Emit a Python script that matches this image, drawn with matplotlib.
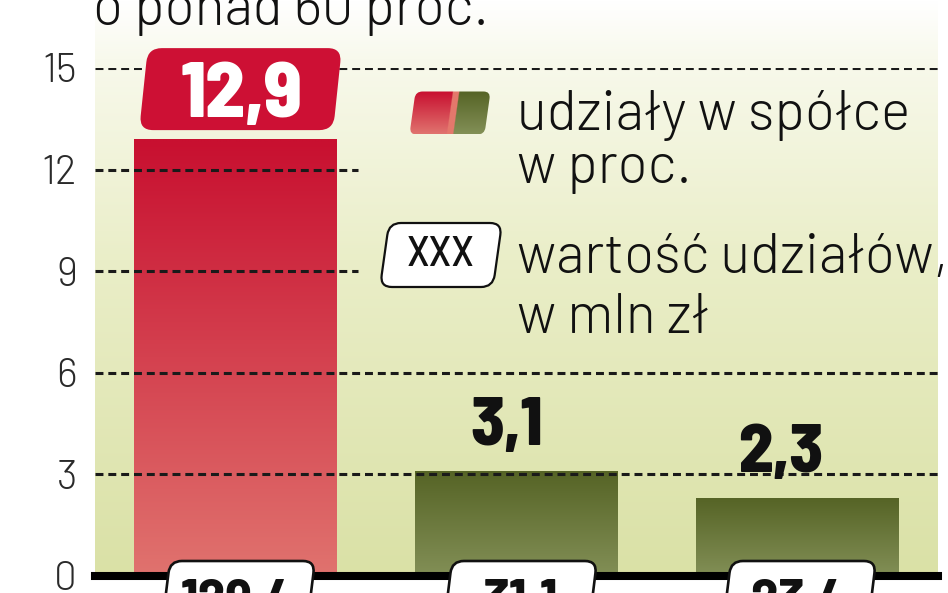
import matplotlib
matplotlib.use("Agg")
import matplotlib.pyplot as plt
import numpy as np
from matplotlib.patches import FancyBboxPatch
from matplotlib.transforms import Affine2D, ScaledTranslation

FONT = ["Barlow Semi Condensed", "DejaVu Sans"]
TEXT_FONT = ["Barlow", "DejaVu Sans"]
W, H = 948, 593

# data
shares = [12.9, 3.1, 2.3]                    # udziały w spółce, w proc.
share_labels = ["12,9", "3,1", "2,3"]
value_labels = ["129,4", "31,1", "23,4"]     # wartość udziałów, w mln zł
yticks = [0, 3, 6, 9, 12, 15]

RED_TOP, RED_BOT = (200, 16, 48), (224, 114, 110)
GREEN_TOP, GREEN_BOT = (86, 100, 38), (130, 143, 86)


def vgrad(top, bot, n=64):
    t = np.linspace(0, 1, n)[:, None]
    c = (1 - t) * np.array(top) + t * np.array(bot)
    return (c / 255.0)[:, None, :]


def fx(px):
    return px / W


def fy(py):
    return 1 - py / H


def slanted_box(ax, x, y, anchor, w, h, dx=0.0, dy=0.0, skew=7, r=0.12, **kw):
    # rounded box, slanted like in the newspaper graphic; sizes in inches
    fig = ax.figure
    tr = (Affine2D().skew_deg(skew, 0).translate(dx, dy) + fig.dpi_scale_trans
          + ScaledTranslation(x, y, anchor))
    box = FancyBboxPatch((-w / 2, -h / 2), w, h,
                         boxstyle=f"round,pad=0,rounding_size={r}",
                         transform=tr, clip_on=False, **kw)
    ax.add_patch(box)
    return box, tr


fig = plt.figure(figsize=(W / 100, H / 100), dpi=100)
ax = fig.add_axes([fx(95), 17 / H, (938 - 95) / W, 508 / H])
ax.set_xlim(-0.5, 2.5)
ax.set_ylim(0, 15)

# background: pale cream fading to white at the top
yy = np.linspace(0, 1, 200)
stops_y = [0.0, 0.55, 0.9, 1.0]
bg = np.stack([np.interp(yy, stops_y, [218, 234, 248, 255]),
               np.interp(yy, stops_y, [225, 238, 249, 255]),
               np.interp(yy, stops_y, [166, 200, 236, 255])], axis=1)[::-1] / 255
ax.imshow(bg[:, None, :], extent=[-0.5, 2.5, 0, 17], aspect="auto", zorder=0,
          clip_on=False, interpolation="bilinear")

# bars with vertical gradients
x = np.arange(len(shares))
bars = ax.bar(x, shares, width=0.72, color="none", zorder=2)
for i, b in enumerate(bars):
    top, bot = (RED_TOP, RED_BOT) if i == 0 else (GREEN_TOP, GREEN_BOT)
    im = ax.imshow(vgrad(top, bot), extent=[b.get_x(), b.get_x() + b.get_width(), 0, b.get_height()],
                   aspect="auto", zorder=2, interpolation="bilinear")
    im.set_clip_path(b)

# dashed grid lines (12 and 9 are broken by the legend)
grid_end = {12: 0.436, 9: 0.436}
for t in yticks[1:]:
    ax.plot([-0.5, grid_end.get(t, 2.5)], [t, t], color="#1a1a1a", lw=2.2,
            dashes=(2.6, 1.6), zorder=3, dash_capstyle="butt")

# thick baseline
ax.axhline(0, color="black", lw=5.8, zorder=4, clip_on=False)

# value labels above bars
slanted_box(ax, x[0], shares[0], ax.transData, 1.94, 0.82, dx=0.05, dy=0.50,
            skew=6, r=0.14, fc="#cd1034", ec="none", zorder=5)
ax.annotate(share_labels[0], (x[0], shares[0]), xytext=(4, 16), textcoords="offset points",
            ha="center", va="baseline", color="white", fontsize=56, fontweight=800,
            family=FONT, zorder=6)
label_dx = [0, -7, -12]
for i in range(1, len(shares)):
    ax.annotate(share_labels[i], (x[i], shares[i]), xytext=(label_dx[i], 19),
                textcoords="offset points", ha="center", va="baseline", color="#111111",
                fontsize=49, fontweight=800, family=FONT, zorder=6)

# value of shares in boxes under the baseline (cut by the picture edge)
box_dx = [0.03, 0.04, 0.02]
for i, lab in enumerate(value_labels):
    slanted_box(ax, x[i], 0, ax.transData, 1.45, 0.64, dx=box_dx[i], dy=-0.17,
                skew=7, r=0.12, fc="white", ec="#111111", lw=1.9, zorder=7)
    ax.annotate(lab, (x[i], 0), xytext=(box_dx[i] * 72, -30), textcoords="offset points",
                ha="center", va="baseline", color="#111111", fontsize=40, fontweight=700,
                family=FONT, zorder=8, annotation_clip=False)

# y axis
ax.set_yticks(yticks)
ax.set_yticklabels([str(t) for t in yticks], family=TEXT_FONT, fontsize=29, fontweight=300,
                   color="#2a2a2a")
ax.tick_params(axis="y", length=0, pad=13)
ax.set_xticks([])
for s in ax.spines.values():
    s.set_visible(False)

# legend
sw, sw_tr = slanted_box(ax, fx(450), fy(113), fig.transFigure, 0.75, 0.43,
                        skew=8, r=0.07, fc="none", ec="none", zorder=5)
n = 60
cols = np.linspace(0, 1, n)
sw_img = np.zeros((32, n, 3))
red, green = vgrad(RED_TOP, RED_BOT, 32)[:, 0, :], vgrad(GREEN_TOP, GREEN_BOT, 32)[:, 0, :]
for c in range(n):
    if cols[c] < 0.5:
        sw_img[:, c] = red
    elif cols[c] < 0.58:
        sw_img[:, c] = np.array([228, 120, 108]) / 255
    else:
        sw_img[:, c] = green
im = ax.imshow(sw_img, extent=[-0.375, 0.375, -0.215, 0.215], transform=sw_tr,
               aspect="auto", zorder=5, interpolation="bilinear")
im.set_clip_path(sw)

slanted_box(ax, fx(441), fy(255), fig.transFigure, 1.13, 0.64, skew=8, r=0.12,
            fc="white", ec="#111111", lw=1.6, zorder=5)
fig.text(fx(441), fy(255), "XXX", ha="center", va="center", fontsize=31, fontweight=500,
         family=FONT, color="#111111", zorder=6)

legend_lines = [("udziały w spółce", 130), ("w proc.", 183),
                ("wartość udziałów,", 273), ("w mln zł", 333)]
for txt, base in legend_lines:
    fig.text(fx(517), fy(base), txt, ha="left", va="baseline", fontsize=40, fontweight=300,
             family=TEXT_FONT, color="#111111")

# title line, cut by the top edge
fig.text(fx(93), fy(25), "o ponad 60 proc.", ha="left", va="baseline", fontsize=40,
         fontweight=300, family=TEXT_FONT, color="#111111")

fig.savefig("out.png", dpi=100)
